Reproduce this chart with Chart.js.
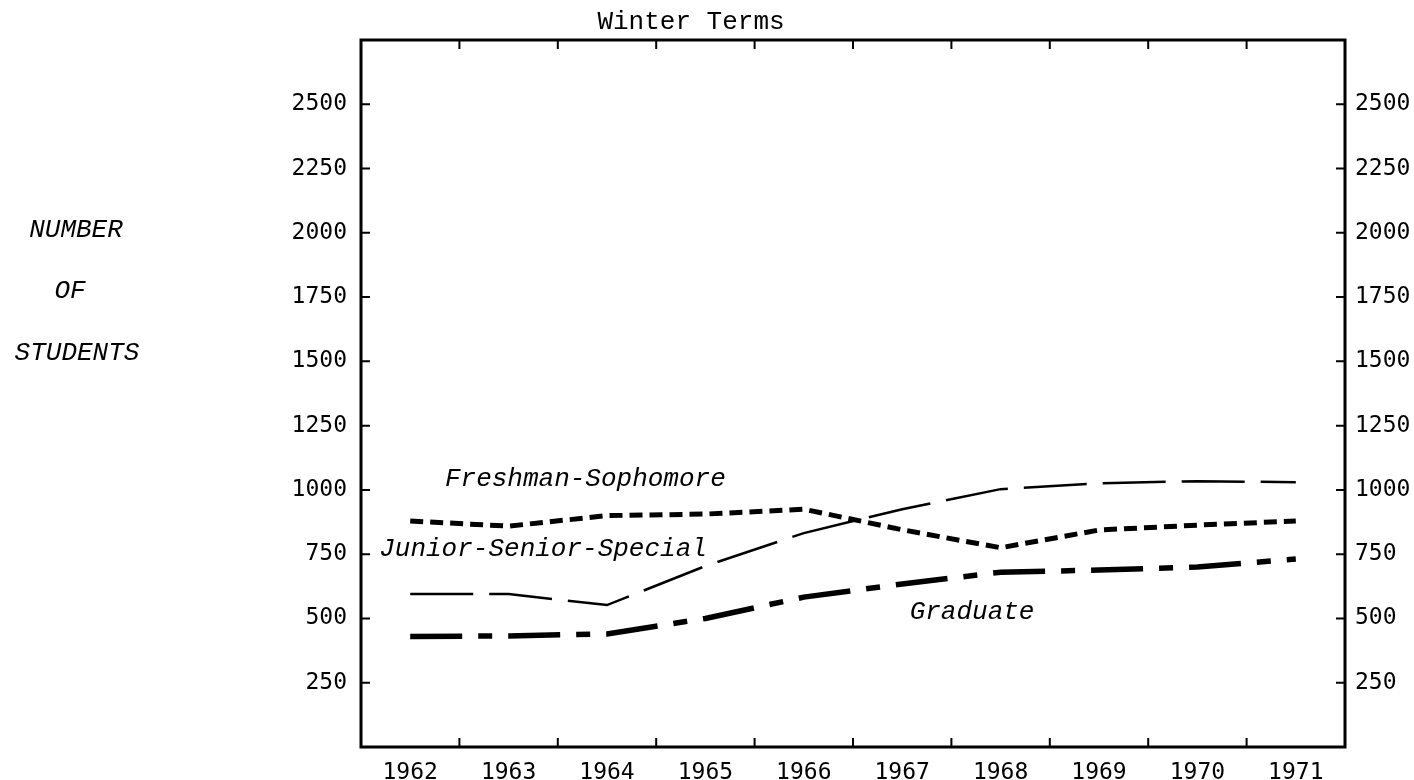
<!DOCTYPE html>
<html>
<head>
<meta charset="utf-8">
<title>Winter Terms</title>
<script src="https://cdn.jsdelivr.net/npm/chart.js@4.4.1/dist/chart.umd.min.js"></script>
<style>
  html, body { margin: 0; padding: 0; background: #fff; }
  canvas { display: block; }
</style>
</head>
<body>
<canvas id="enrollChart" width="1414" height="780"></canvas>
<script>
// Winter term enrolment, 1962-1971
const years = ['1962', '1963', '1964', '1965', '1966', '1967', '1968', '1969', '1970', '1971'];
const freshSoph = [879, 859, 900, 906, 925, 845, 775, 844, 863, 879];
const juniorSeniorSpecial = [595, 595, 552, 704, 832, 925, 1003, 1026, 1034, 1030];
const graduate = [430, 432, 440, 500, 583, 634, 680, 688, 700, 731];
const yTicks = [250, 500, 750, 1000, 1250, 1500, 1750, 2000, 2250, 2500];

// labels typed next to the curves (category index, value)
const curveLabels = [
    { text: 'Freshman-Sophomore', at: 1.78, value: 1042 },
    { text: 'Junior-Senior-Special', at: 1.35, value: 770 },
    { text: 'Graduate', at: 5.71, value: 525 }
];

const monoFont = '"DejaVu Sans Mono", monospace';
const typeFont = '"Liberation Mono", "Courier New", monospace';

// frame, inward tick marks and the typed texts
const paperPlugin = {
    id: 'paper',
    afterDraw(chart) {
        const ctx = chart.ctx;
        const a = chart.chartArea;
        const x = chart.scales.x;
        const y = chart.scales.y;
        ctx.save();
        ctx.strokeStyle = '#000';
        ctx.lineWidth = 3;
        ctx.strokeRect(a.left, a.top, a.right - a.left, a.bottom - a.top);

        ctx.lineWidth = 2;
        ctx.beginPath();
        for (let i = 1; i < years.length; i++) {
            const px = (x.getPixelForTick(i - 1) + x.getPixelForTick(i)) / 2;
            ctx.moveTo(px, a.bottom); ctx.lineTo(px, a.bottom - 9);
            ctx.moveTo(px, a.top); ctx.lineTo(px, a.top + 9);
        }
        yTicks.forEach(function (v) {
            const py = y.getPixelForValue(v);
            ctx.moveTo(a.left, py); ctx.lineTo(a.left + 9, py);
            ctx.moveTo(a.right, py); ctx.lineTo(a.right - 9, py);
        });
        ctx.stroke();

        ctx.fillStyle = '#000';
        ctx.textAlign = 'center';
        ctx.textBaseline = 'middle';
        ctx.font = 'italic 26px ' + typeFont;
        curveLabels.forEach(function (l) {
            const px = x.getPixelForValue(0) + l.at * (x.getPixelForTick(1) - x.getPixelForTick(0));
            ctx.fillText(l.text, px, y.getPixelForValue(l.value));
        });

        ctx.fillText('NUMBER', 76, 230);
        ctx.fillText('OF', 70, 291);
        ctx.fillText('STUDENTS', 77, 353);

        ctx.font = '26px ' + typeFont;
        ctx.fillText('Winter Terms', 691, 22);
        ctx.restore();
    }
};

const yScaleBase = {
    min: 0,
    max: 2750,
    grid: { display: false },
    border: { display: false },
    ticks: {
        stepSize: 250,
        color: '#000',
        padding: 6,
        font: { family: monoFont, size: 23 },
        callback: function (v) { return (v > 0 && v <= 2500) ? v : ''; }
    }
};

new Chart(document.getElementById('enrollChart'), {
    type: 'line',
    data: {
        labels: years,
        datasets: [{
            label: 'Freshman-Sophomore',
            data: freshSoph,
            borderColor: '#000',
            borderWidth: 5,
            borderDash: [13, 7],
            pointRadius: 0,
            tension: 0,
            yAxisID: 'y'
        }, {
            label: 'Junior-Senior-Special',
            data: juniorSeniorSpecial,
            borderColor: '#000',
            borderWidth: 2.5,
            borderDash: [63, 16],
            pointRadius: 0,
            tension: 0,
            yAxisID: 'y'
        }, {
            label: 'Graduate',
            data: graduate,
            borderColor: '#000',
            borderWidth: 5.5,
            borderDash: [52, 16, 14, 16],
            pointRadius: 0,
            tension: 0,
            yAxisID: 'y'
        }]
    },
    options: {
        responsive: false,
        animation: false,
        layout: { padding: 0 },
        plugins: {
            legend: { display: false },
            tooltip: { enabled: false }
        },
        scales: {
            x: {
                offset: true,
                grid: { display: false },
                border: { display: false },
                ticks: {
                    color: '#000',
                    padding: 4,
                    maxRotation: 0,
                    font: { family: monoFont, size: 23 }
                },
                afterFit: function (s) { s.height = 33; }
            },
            xTop: {
                position: 'top',
                type: 'category',
                labels: years,
                offset: true,
                grid: { display: false },
                border: { display: false },
                ticks: { display: false },
                afterFit: function (s) { s.height = 40; }
            },
            y: Object.assign({}, yScaleBase, {
                position: 'left',
                afterFit: function (s) { s.width = 361; }
            }),
            y2: Object.assign({}, yScaleBase, {
                position: 'right',
                ticks: Object.assign({}, yScaleBase.ticks, { padding: 2 }),
                afterFit: function (s) { s.width = 69; }
            })
        }
    },
    plugins: [paperPlugin]
});
</script>
</body>
</html>
